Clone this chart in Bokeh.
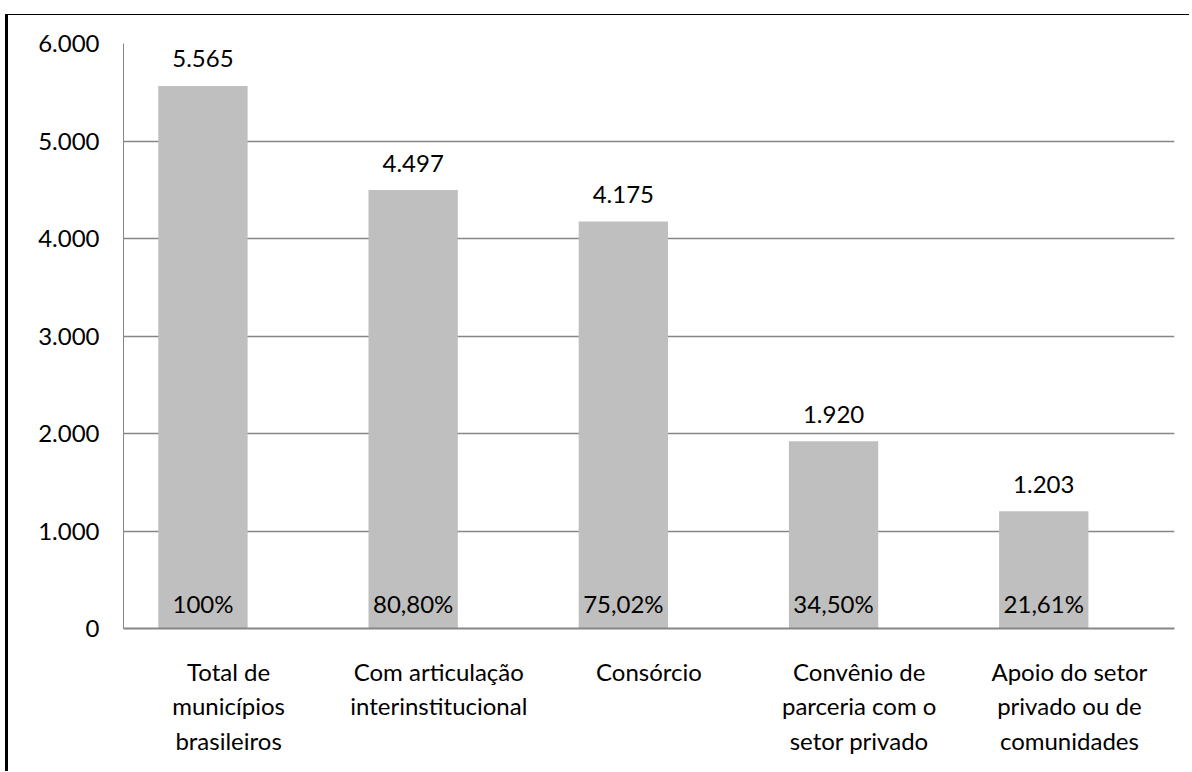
from bokeh.plotting import figure
from bokeh.models import Range1d, FixedTicker, ColumnDataSource
from bokeh.core.properties import value
from bokeh.embed import file_html
from bokeh.resources import INLINE

categories = ["Total de\nmunicípios\nbrasileiros",
              "Com articulação\ninterinstitucional",
              "Consórcio",
              "Convênio de\nparceria com o\nsetor privado",
              "Apoio do setor\nprivado ou de\ncomunidades"]
values = [5565, 4497, 4175, 1920, 1203]
percents = ["100%", "80,80%", "75,02%", "34,50%", "21,61%"]
y_ticks = [0, 1000, 2000, 3000, 4000, 5000, 6000]
y_tick_labels = ["0", "1.000", "2.000", "3.000", "4.000", "5.000", "6.000"]

FONT = "Lato"
FS = "24px"
GRID = "#868686"

centers = [i + 0.5 for i in range(len(categories))]
bar_x = [c - 0.122 for c in centers]
value_labels = [f"{v:,}".replace(",", ".") for v in values]

src = ColumnDataSource(dict(x=bar_x, top=values, vlab=value_labels,
                            plab=percents, zero=[0] * len(values)))

p = figure(width=1184, height=757, output_backend="svg", toolbar_location=None,
           x_range=Range1d(0, 5), y_range=Range1d(0, 6000),
           min_border_left=115, min_border_top=28, min_border_right=18,
           min_border_bottom=144,
           styles={"border-left": "3px solid black", "border-top": "1px solid black",
                   "margin-left": "5px", "margin-top": "14px"})
p.outline_line_color = None
p.background_fill_color = "white"
p.border_fill_color = "white"

p.vbar(x="x", top="top", width=0.425, bottom=0, source=src,
       fill_color="#BFBFBF", line_color=None)

p.text(x="x", y="top", text="vlab", source=src, y_offset=-27,
       text_align="center", text_baseline="middle",
       text_font=value(FONT), text_font_size=FS, text_color="black")
p.text(x="x", y="zero", text="plab", source=src, y_offset=-25,
       text_align="center", text_baseline="middle",
       text_font=value(FONT), text_font_size=FS, text_color="black")

# axes
p.yaxis.ticker = FixedTicker(ticks=y_ticks)
p.yaxis.major_label_overrides = {t: l for t, l in zip(y_ticks, y_tick_labels)}
p.yaxis.major_tick_in = 0
p.yaxis.major_tick_out = 0
p.yaxis.minor_tick_line_color = None
p.yaxis.axis_line_color = GRID
p.yaxis.axis_line_width = 1
p.yaxis.major_label_standoff = 24
p.yaxis.major_label_text_font = FONT
p.yaxis.major_label_text_font_size = FS
p.yaxis.major_label_text_color = "black"

p.xaxis.ticker = FixedTicker(ticks=centers)
p.xaxis.major_label_overrides = {c: l for c, l in zip(centers, categories)}
p.xaxis.major_tick_in = 0
p.xaxis.major_tick_out = 0
p.xaxis.minor_tick_line_color = None
p.xaxis.axis_line_color = GRID
p.xaxis.axis_line_width = 2
p.xaxis.major_label_standoff = 28
p.xaxis.major_label_text_font = FONT
p.xaxis.major_label_text_font_size = FS
p.xaxis.major_label_text_color = "black"
p.xaxis.major_label_text_line_height = 1.2

p.xgrid.grid_line_color = None
p.ygrid.ticker = FixedTicker(ticks=y_ticks[1:])
p.ygrid.grid_line_color = GRID
p.ygrid.grid_line_width = 1.3

open("out.html", "w").write(file_html(p, INLINE))
